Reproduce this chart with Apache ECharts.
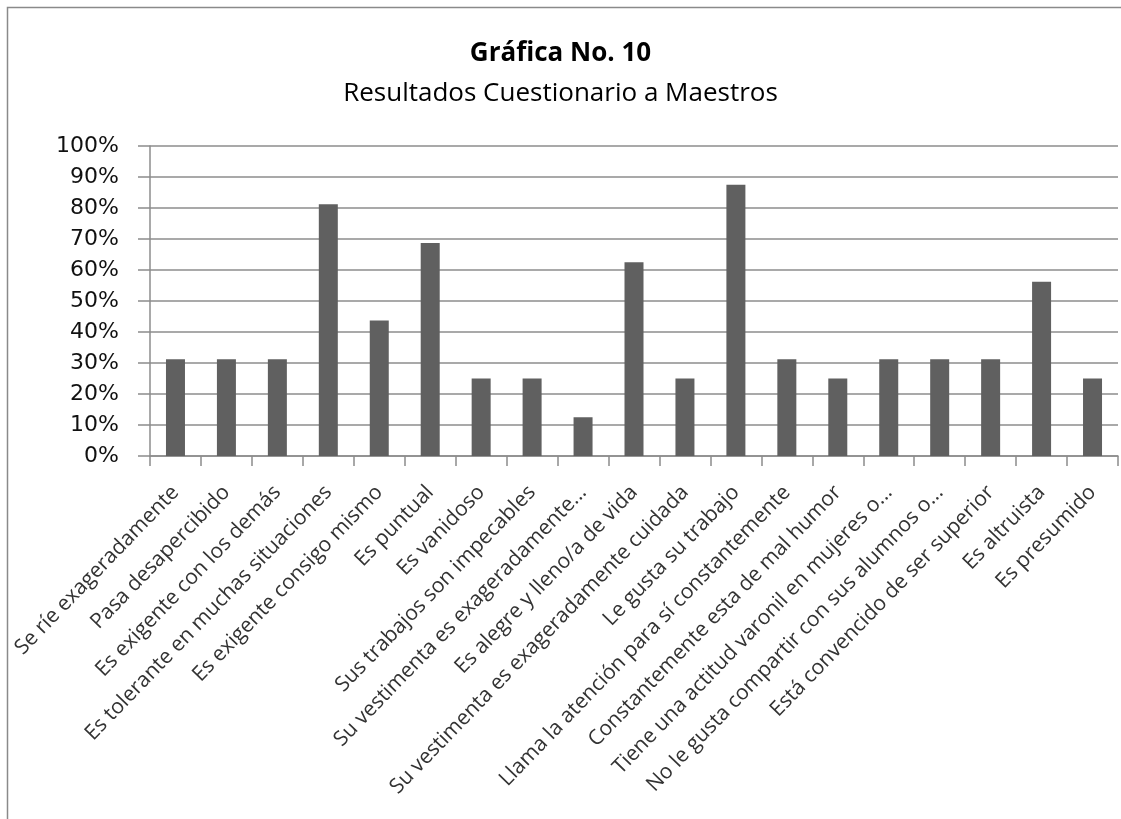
<!DOCTYPE html>
<html>
<head>
<meta charset="utf-8">
<script src="https://cdn.jsdelivr.net/npm/echarts@6/dist/echarts.min.js"></script>
<style>
  html, body { margin: 0; padding: 0; background: #fff; }
  #chart { width: 1121px; height: 819px; }
</style>
</head>
<body>
<div id="chart"></div>
<script>
const categories = [
  'Se ríe exageradamente',
  'Pasa desapercibido',
  'Es exigente con los demás',
  'Es tolerante en muchas situaciones',
  'Es exigente consigo mismo',
  'Es puntual',
  'Es vanidoso',
  'Sus trabajos son impecables',
  'Su vestimenta es exageradamente...',
  'Es alegre y lleno/a de vida',
  'Su vestimenta es exageradamente cuidada',
  'Le gusta su trabajo',
  'Llama la atención para sí constantemente',
  'Constantemente esta de mal humor',
  'Tiene una actitud varonil en mujeres o...',
  'No le gusta compartir con sus alumnos o...',
  'Está convencido de ser superior',
  'Es altruista',
  'Es presumido'
]
const values = [31.25, 31.25, 31.25, 81.25, 43.75, 68.75, 25, 25, 12.5, 62.5, 25, 87.5, 31.25, 25, 31.25, 31.25, 31.25, 56.25, 25]

const xFont = '"Open Sans", sans-serif'

var myChart = echarts.init(document.getElementById('chart'))
var option = {
  animation: false,
  backgroundColor: '#fff',
  title: {
    text: 'Gráfica No. 10',
    subtext: 'Resultados Cuestionario a Maestros',
    left: 'center',
    top: 36,
    itemGap: 14,
    textStyle: { fontFamily: xFont, fontWeight: 'bold', fontSize: 26, color: '#000' },
    subtextStyle: { fontFamily: xFont, fontSize: 26, color: '#000' }
  },
  graphic: [{
    type: 'rect',
    shape: { x: 7.5, y: 7.5, width: 1200, height: 900 },
    style: { fill: null, stroke: '#8a8a8a', lineWidth: 1.5 }
  }],
  grid: { left: 150, right: 3, top: 146, bottom: 363 },
  xAxis: {
    type: 'category',
    data: categories,
    axisLine: { lineStyle: { color: '#8c8c8c', width: 1.5 } },
    axisTick: { show: true, length: 10, lineStyle: { color: '#8c8c8c', width: 1.5 } },
    axisLabel: {
      interval: 0,
      rotate: 46,
      margin: 33,
      fontFamily: xFont,
      fontSize: 21,
      color: '#333'
    }
  },
  yAxis: {
    type: 'value',
    min: 0,
    max: 100,
    interval: 10,
    axisLine: { show: true, lineStyle: { color: '#8c8c8c', width: 1.5 } },
    axisTick: { show: true, length: 12, lineStyle: { color: '#8c8c8c', width: 1.5 } },
    splitLine: { lineStyle: { color: '#8c8c8c', width: 1.5 } },
    axisLabel: {
      formatter: '{value}%',
      margin: 31,
      fontFamily: '"DejaVu Sans", sans-serif',
      fontSize: 22,
      color: '#111'
    }
  },
  series: [{
    type: 'bar',
    data: values,
    barWidth: 19,
    itemStyle: { color: '#606060' }
  }]
}
option && myChart.setOption(option)
</script>
</body>
</html>
